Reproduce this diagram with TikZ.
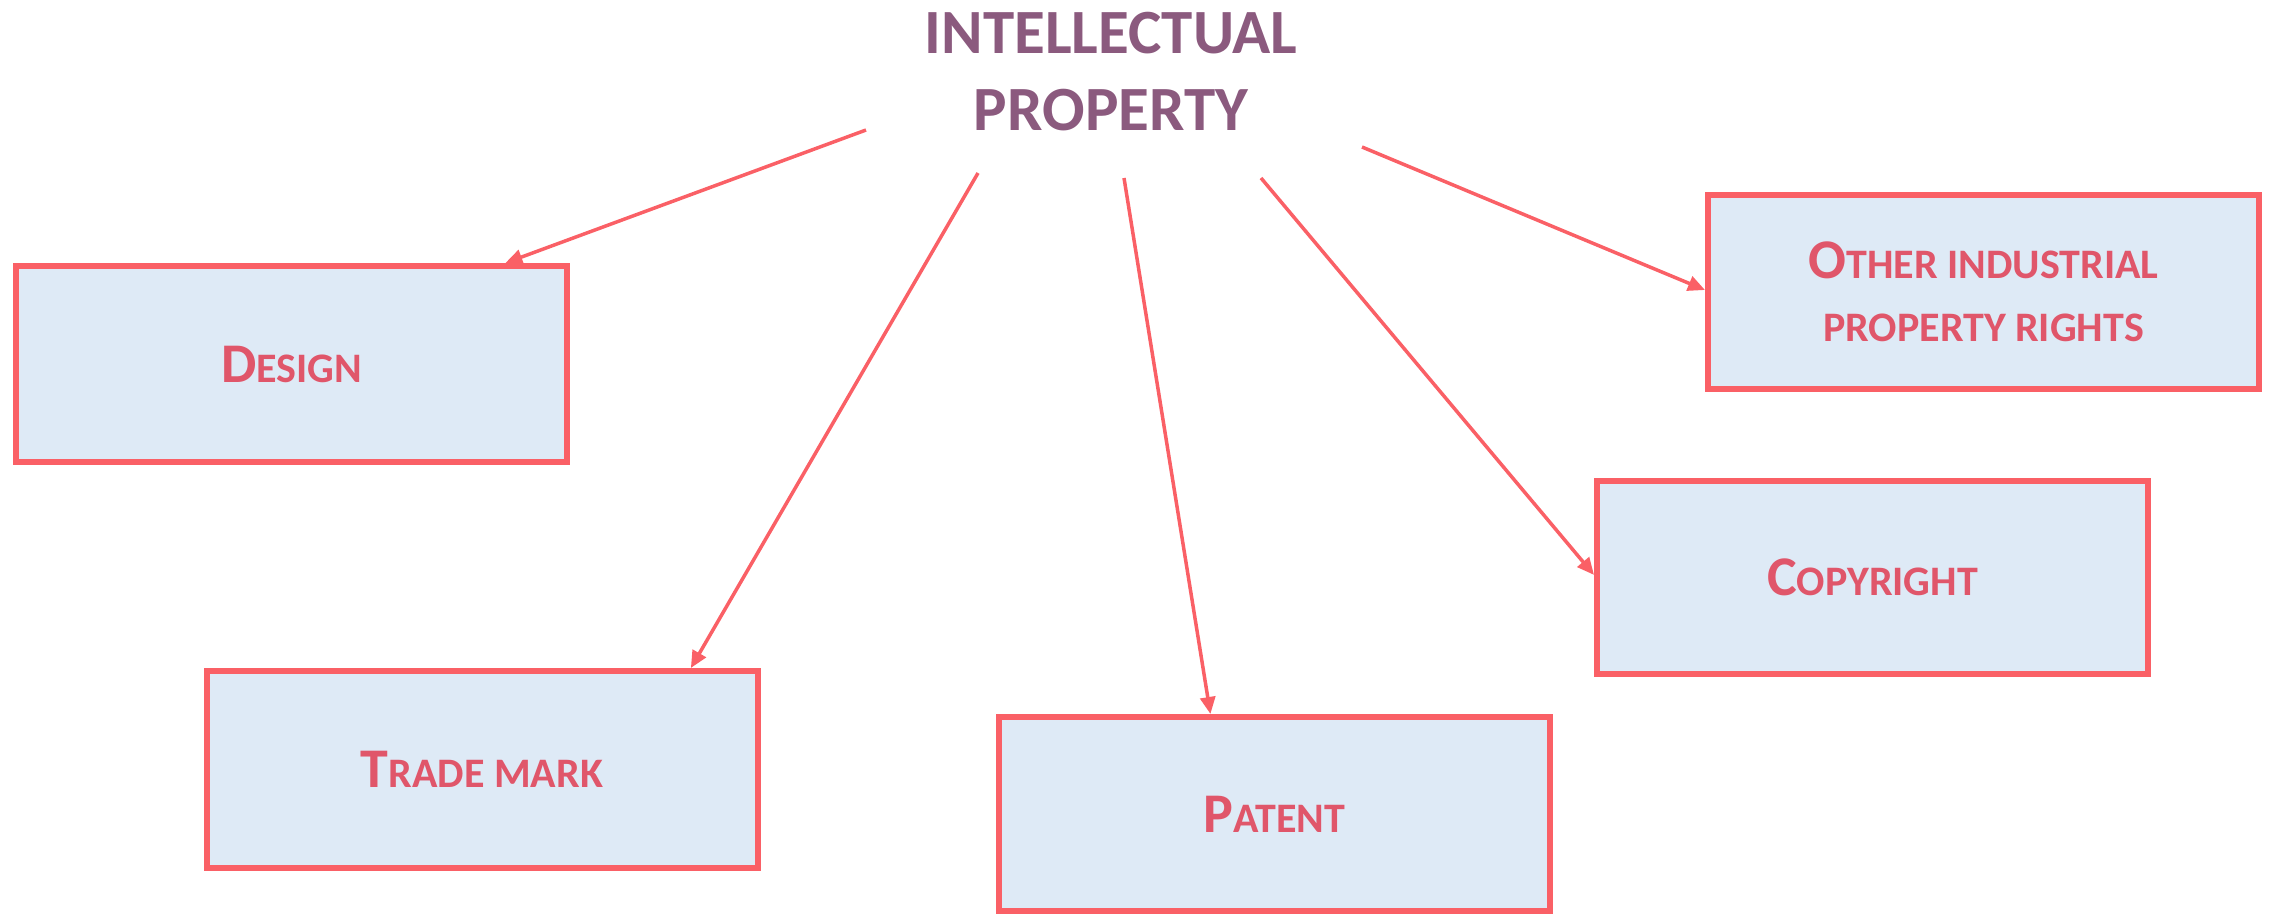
\documentclass[tikz,border=0pt]{standalone}
\usepackage{fontspec}
\setmainfont{Carlito}
\usetikzlibrary{arrows.meta,calc}
\definecolor{titlecol}{HTML}{8B5A7E}
\definecolor{boxline}{HTML}{FA6066}
\definecolor{boxfill}{HTML}{DEEAF6}
\definecolor{boxtext}{HTML}{E0566A}
\newcommand\capbig[1]{{\fontsize{56}{60}\selectfont #1}}
\begin{document}
\begin{tikzpicture}[x=1pt,y=-1pt,
  catbox/.style={draw=boxline, line width=6pt, fill=boxfill, inner sep=0pt,
    minimum width=551pt, minimum height=196pt, text=boxtext, align=center,
    font=\bfseries\fontsize{42}{63}\selectfont},
  conn/.style={draw=boxline, line width=3.5pt,
    -{Triangle[length=17pt,width=15pt]}},
  ttl/.style={text=titlecol, font=\bfseries\fontsize{63}{77}\selectfont, align=center, inner sep=0pt}]
\useasboundingbox (0,0) rectangle (2272,916);
% title
\node[ttl, anchor=base] (title) at (1111,130) {INTELLECTUAL\\PROPERTY};
% boxes
\node[catbox] (design) at (291.5,364) {\capbig{D}ESIGN};
\node[catbox, minimum height=197pt] (trade) at (482,769.5) {\capbig{T}RADE MARK};
\node[catbox, minimum height=194pt] (patent) at (1274.5,814) {\capbig{P}ATENT};
\node[catbox, minimum height=193pt] (copy) at (1872.5,577.5) {\capbig{C}OPYRIGHT};
\node[catbox, minimum height=194pt] (other) at (1983.5,292) {\capbig{O}THER INDUSTRIAL\\PROPERTY RIGHTS};
% free start points of connectors
\coordinate (s1) at (866,130);
\coordinate (s2) at (978,173);
\coordinate (s3) at (1124,178);
\coordinate (s4) at (1261,178);
\coordinate (s5) at (1362,147);
% connectors
\draw[conn] (s1) -- ($(design.north west)!0.884!(design.north east)$);
\draw[conn] (s2) -- ($(trade.north west)!0.875!(trade.north east)$);
\draw[conn] (s3) -- ($(patent.north west)!0.385!(patent.north east)$);
\draw[conn] (s4) -- ($(copy.north west)!0.487!(copy.south west)$);
\draw[conn] (s5) -- ($(other.north west)!0.49!(other.south west)$);
\end{tikzpicture}
\end{document}
